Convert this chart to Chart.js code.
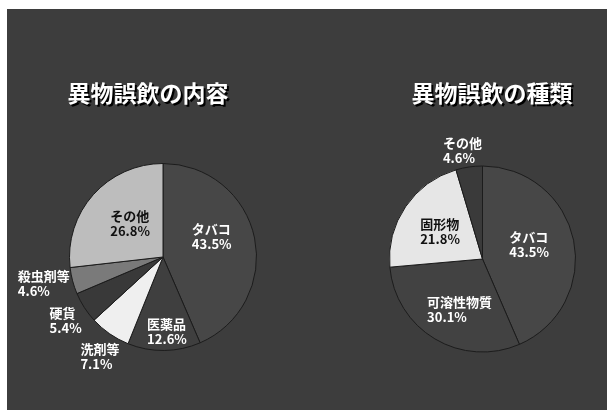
<!DOCTYPE html>
<html lang="ja">
<head>
<meta charset="utf-8">
<title>異物誤飲</title>
<script src="https://cdn.jsdelivr.net/npm/chart.js@4"></script>
<style>
  html, body { margin: 0; padding: 0; background: #ffffff; }
  #panel {
    position: absolute;
    left: 7px;
    top: 9px;
    width: 600px;
    height: 401px;
    background: #3d3d3d;
  }
  canvas { position: absolute; top: 0; }
  #chartContent { left: 0; }
  #chartType { left: 293px; }
</style>
</head>
<body>
<div id="panel">
  <canvas id="chartContent" width="293" height="401"></canvas>
  <canvas id="chartType" width="307" height="401"></canvas>
</div>
<script>
// 異物誤飲の内容
const contentLabels = ["タバコ", "医薬品", "洗剤等", "硬貨", "殺虫剤等", "その他"];
const contentValues = [43.5, 12.6, 7.1, 5.4, 4.6, 26.8];

// 異物誤飲の種類
const typeLabels = ["タバコ", "可溶性物質", "固形物", "その他"];
const typeValues = [43.5, 30.1, 21.8, 4.6];

const FONT = '"Noto Sans CJK JP", "Noto Sans", sans-serif';

// ラベル位置: 円の中心からのずれ (半径94px基準), 文字の左端と1行目の中心
const contentLabelPos = [[29, -28], [-16, 67], [-83, 93], [-114, 56], [-146, 19], [-53, -41]];
const typePosLabel = [[27, -22], [-56, 44], [-63, -35], [-40, -117]];

const contentColors = ["#474747", "#3f3f3f", "#efefef", "#393939", "#7a7a7a", "#bdbdbd"];
const contentText = ["#fff", "#fff", "#fff", "#fff", "#fff", "#111"];
const typeColors = ["#474747", "#424242", "#e6e6e6", "#3a3a3a"];
const typeText = ["#fff", "#fff", "#111", "#fff"];

// タイトルと各スライスのラベルを描く
const pieText = {
  id: "pieText",
  afterDraw(chart, args, opts) {
    const ctx = chart.ctx;
    const meta = chart.getDatasetMeta(0);
    const values = chart.data.datasets[0].data;

    ctx.save();
    ctx.font = "bold 23px " + FONT;
    ctx.textAlign = "center";
    ctx.textBaseline = "middle";
    ctx.shadowColor = "#000";
    ctx.shadowOffsetX = 2;
    ctx.shadowOffsetY = 2;
    ctx.shadowBlur = 0;
    ctx.fillStyle = "#fff";
    ctx.fillText(opts.title, opts.titleX, 84);
    ctx.restore();

    ctx.save();
    ctx.font = "bold 13px " + FONT;
    ctx.textAlign = "left";
    ctx.textBaseline = "middle";
    meta.data.forEach((arc, i) => {
      const k = arc.outerRadius / 94;
      const x = arc.x + opts.pos[i][0] * k;
      const y = arc.y + opts.pos[i][1] * k;
      ctx.fillStyle = opts.textColors[i];
      ctx.fillText(chart.data.labels[i], x, y);
      ctx.fillText(values[i].toFixed(1) + "%", x, y + 15);
    });
    ctx.restore();
  },
};

function makePie(id, labels, values, colors, padding, text) {
  return new Chart(document.getElementById(id), {
    type: "pie",
    data: {
      labels: labels,
      datasets: [
        {
          data: values,
          backgroundColor: colors,
          borderColor: "#1c1c1c",
          borderWidth: 1,
        },
      ],
    },
    options: {
      responsive: false,
      animation: false,
      layout: { padding: padding },
      plugins: {
        legend: { display: false },
        tooltip: { enabled: false },
        pieText: text,
      },
    },
    plugins: [pieText],
  });
}

makePie("chartContent", contentLabels, contentValues, contentColors,
  { left: 62, right: 43, top: 154, bottom: 59 },
  { title: "異物誤飲の内容", titleX: 141, pos: contentLabelPos, textColors: contentText });

makePie("chartType", typeLabels, typeValues, typeColors,
  { left: 89, right: 31, top: 156, bottom: 57 },
  { title: "異物誤飲の種類", titleX: 192, pos: typePosLabel, textColors: typeText });
</script>
</body>
</html>
